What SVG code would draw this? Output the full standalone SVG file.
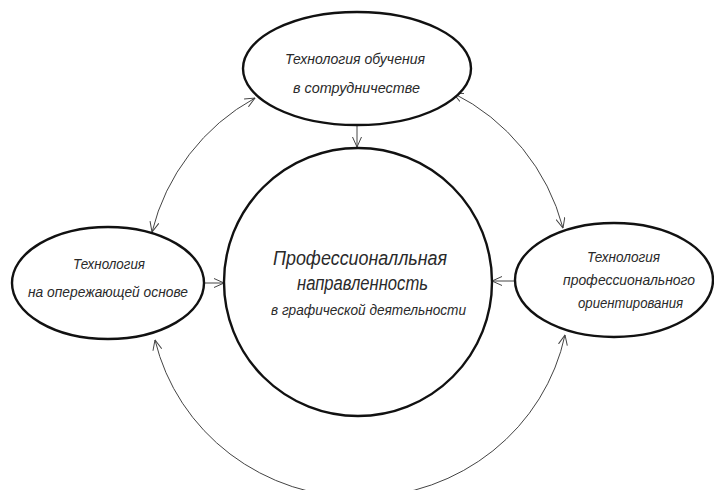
<svg xmlns="http://www.w3.org/2000/svg" width="714" height="490" viewBox="0 0 714 490">
<style>
.node{fill:#fff;stroke:#111;stroke-width:2.4}
.t{font-family:"Liberation Sans",Arial,sans-serif;font-style:italic;fill:#2a2a2a;text-anchor:start}
.s{font-size:15px}
.b{font-size:20px}
.c{font-size:14.5px}
.con{fill:none;stroke:#444;stroke-width:1}
</style>
<defs>
<marker id="ah" viewBox="0 0 10 10" refX="10" refY="5" markerWidth="11" markerHeight="10" markerUnits="userSpaceOnUse" orient="auto-start-reverse">
<path d="M0,0.5 L10,5 L0,9.5" fill="none" stroke="#444" stroke-width="1"/>
</marker>
</defs>
<rect width="714" height="490" fill="#fff"/>
<g id="connectors">
<line class="con" x1="357" y1="125" x2="357" y2="147" marker-end="url(#ah)"/>
<line class="con" x1="204" y1="283" x2="224" y2="283" marker-end="url(#ah)"/>
<line class="con" x1="515" y1="281" x2="492" y2="281" marker-end="url(#ah)"/>
<path class="con" d="M152,232 A211,211 0 0 1 255,98" marker-start="url(#ah)" marker-end="url(#ah)"/>
<path class="con" d="M453,93 A211,211 0 0 1 563,228" marker-start="url(#ah)" marker-end="url(#ah)"/>
<path class="con" d="M565,335 A210,204 0 0 1 155,340" marker-start="url(#ah)" marker-end="url(#ah)"/>
</g>
<g id="top">
<ellipse class="node" cx="357" cy="68.5" rx="114" ry="56.5"/>
<text class="t s" x="285" y="64" textLength="140" lengthAdjust="spacingAndGlyphs">Технология обучения</text>
<text class="t s" x="293" y="93" textLength="127" lengthAdjust="spacingAndGlyphs">в сотрудничестве</text>
</g>
<g id="left">
<ellipse class="node" cx="108" cy="283" rx="96" ry="56"/>
<text class="t s" x="73" y="269" textLength="72" lengthAdjust="spacingAndGlyphs">Технология</text>
<text class="t s" x="28" y="297" textLength="160" lengthAdjust="spacingAndGlyphs">на опережающей основе</text>
</g>
<g id="right">
<ellipse class="node" cx="614" cy="280" rx="99" ry="57"/>
<text class="t s" x="587" y="262" textLength="73" lengthAdjust="spacingAndGlyphs">Технология</text>
<text class="t s" x="563" y="285" textLength="132" lengthAdjust="spacingAndGlyphs">профессионального</text>
<text class="t s" x="578" y="308" textLength="105" lengthAdjust="spacingAndGlyphs">ориентирования</text>
</g>
<g id="center">
<circle class="node" cx="358" cy="282" r="134"/>
<text class="t b" x="273" y="265" textLength="174" lengthAdjust="spacingAndGlyphs">Профессионалльная</text>
<text class="t b" x="297" y="290" textLength="131" lengthAdjust="spacingAndGlyphs">направленность</text>
<text class="t c" x="271" y="315" textLength="195" lengthAdjust="spacingAndGlyphs">в графической деятельности</text>
</g>
</svg>
